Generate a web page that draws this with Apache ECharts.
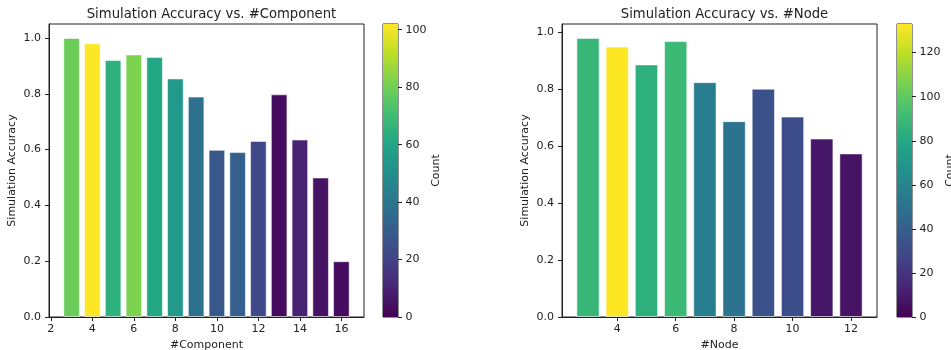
<!DOCTYPE html>
<html>
<head>
<meta charset="utf-8">
<script src="https://cdn.jsdelivr.net/npm/echarts@6/dist/echarts.min.js"></script>
<style>
html,body{margin:0;padding:0;background:#fff;}
#chart{width:951px;height:350px;}
</style>
</head>
<body>
<div id="chart"></div>
<script>
// ---- data ----
const compX = [3, 4, 5, 6, 7, 8, 9, 10, 11, 12, 13, 14, 15, 16];
const compAcc = [1.0, 0.981, 0.921, 0.941, 0.932, 0.855, 0.79, 0.599, 0.591, 0.631, 0.798, 0.636, 0.5, 0.2];
const compCount = [79, 102, 65, 82, 61, 54, 38, 28, 31, 22, 3, 10, 5, 3];

const nodeX = [3, 4, 5, 6, 7, 8, 9, 10, 11, 12];
const nodeAcc = [0.979, 0.949, 0.886, 0.968, 0.824, 0.687, 0.801, 0.703, 0.626, 0.574];
const nodeCount = [88, 133, 84, 90, 56, 50, 33, 31, 8, 7];

const accTicks = [0, 0.2, 0.4, 0.6, 0.8, 1.0];
const compTicks = [2, 4, 6, 8, 10, 12, 14, 16];
const nodeTicks = [4, 6, 8, 10, 12];
const compCountTicks = [0, 20, 40, 60, 80, 100];
const nodeCountTicks = [0, 20, 40, 60, 80, 100, 120];

const viridis = ['#440154','#482475','#414487','#355f8d','#2a788e','#21918c','#22a884','#44bf70','#7ad151','#bddf26','#fde725'];

// ---- helpers ----
const FONT = 'DejaVu Sans';
const TXT = '#222';
const FS = 11;
function xRange(xs, w) {
  const lo = Math.min(...xs) - w / 2, hi = Math.max(...xs) + w / 2;
  const m = (hi - lo) * 0.05;
  return [lo - m, hi + m];
}
function yMax(vals) { return Math.max(...vals) * 1.05; }
const gradient = {
  type: 'linear', x: 0, y: 1, x2: 0, y2: 0,
  colorStops: viridis.map((c, i) => ({ offset: i / (viridis.length - 1), color: c }))
};
function tick(vals) { return { show: true, length: 4, lineStyle: { color: TXT }, customValues: vals }; }
function label(vals, margin, fmt) {
  const o = { color: TXT, fontSize: FS, fontFamily: FONT, margin: margin, customValues: vals };
  if (fmt) o.formatter = fmt;
  return o;
}
const nameStyle = { color: TXT, fontSize: FS, fontFamily: FONT };
const axLine = { show: true, onZero: false, lineStyle: { color: TXT, width: 1 } };

const cr = xRange(compX, 0.8), nr = xRange(nodeX, 0.8);
const compMax = Math.max(...compCount), nodeMax = Math.max(...nodeCount);

const gridBox = { show: true, borderColor: TXT, borderWidth: 1, containLabel: false, outerBoundsMode: 'none' };

const option = {
  animation: false,
  backgroundColor: '#fff',
  textStyle: { fontFamily: FONT },
  title: [
    { text: 'Simulation Accuracy vs. #Component', left: 206.5, top: 3, textAlign: 'center',
      textStyle: { fontSize: 13.2, fontWeight: 'normal', color: TXT, fontFamily: FONT } },
    { text: 'Simulation Accuracy vs. #Node', left: 719.5, top: 3, textAlign: 'center',
      textStyle: { fontSize: 13.2, fontWeight: 'normal', color: TXT, fontFamily: FONT } }
  ],
  grid: [
    Object.assign({ left: 49, top: 24, width: 315, height: 293 }, gridBox),
    Object.assign({ left: 383, top: 24, width: 15, height: 293 }, gridBox),
    Object.assign({ left: 562, top: 24, width: 315, height: 293 }, gridBox),
    Object.assign({ left: 897, top: 24, width: 15, height: 293 }, gridBox)
  ],
  xAxis: [
    { type: 'value', gridIndex: 0, min: cr[0], max: cr[1], name: '#Component',
      nameLocation: 'middle', nameGap: 20, nameTextStyle: nameStyle,
      axisLine: axLine, splitLine: { show: false },
      axisTick: tick(compTicks), axisLabel: label(compTicks, 7) },
    { type: 'category', gridIndex: 1, data: ['c'], show: false, boundaryGap: true },
    { type: 'value', gridIndex: 2, min: nr[0], max: nr[1], name: '#Node',
      nameLocation: 'middle', nameGap: 20, nameTextStyle: nameStyle,
      axisLine: axLine, splitLine: { show: false },
      axisTick: tick(nodeTicks), axisLabel: label(nodeTicks, 7) },
    { type: 'category', gridIndex: 3, data: ['c'], show: false, boundaryGap: true }
  ],
  yAxis: [
    { type: 'value', gridIndex: 0, min: 0, max: yMax(compAcc), name: 'Simulation Accuracy',
      nameLocation: 'middle', nameGap: 31, nameRotate: 90, nameTextStyle: nameStyle,
      axisLine: axLine, splitLine: { show: false },
      axisTick: tick(accTicks), axisLabel: label(accTicks, 8, v => v.toFixed(1)) },
    { type: 'value', gridIndex: 1, position: 'right', min: 0, max: compMax, name: 'Count',
      nameLocation: 'middle', nameGap: 32, nameRotate: 90, nameTextStyle: nameStyle,
      axisLine: { show: false }, splitLine: { show: false },
      axisTick: tick(compCountTicks), axisLabel: label(compCountTicks, 7.5) },
    { type: 'value', gridIndex: 2, min: 0, max: yMax(nodeAcc), name: 'Simulation Accuracy',
      nameLocation: 'middle', nameGap: 31, nameRotate: 90, nameTextStyle: nameStyle,
      axisLine: axLine, splitLine: { show: false },
      axisTick: tick(accTicks), axisLabel: label(accTicks, 8, v => v.toFixed(1)) },
    { type: 'value', gridIndex: 3, position: 'right', min: 0, max: nodeMax, name: 'Count',
      nameLocation: 'middle', nameGap: 29, nameRotate: 90, nameTextStyle: nameStyle,
      axisLine: { show: false }, splitLine: { show: false },
      axisTick: tick(nodeCountTicks), axisLabel: label(nodeCountTicks, 7.5) }
  ],
  visualMap: [
    { type: 'continuous', show: false, seriesIndex: 0, dimension: 2, min: 0, max: compMax,
      inRange: { color: viridis } },
    { type: 'continuous', show: false, seriesIndex: 2, dimension: 2, min: 0, max: nodeMax,
      inRange: { color: viridis } }
  ],
  series: [
    { type: 'bar', xAxisIndex: 0, yAxisIndex: 0, barWidth: 16.6,
      encode: { x: 0, y: 1 },
      itemStyle: { borderColor: 'rgba(255,255,255,0.55)', borderWidth: 1 },
      data: compX.map((x, i) => [x, compAcc[i], compCount[i]]) },
    { type: 'bar', xAxisIndex: 1, yAxisIndex: 1, barWidth: '100%', silent: true,
      itemStyle: { color: gradient }, data: [compMax] },
    { type: 'bar', xAxisIndex: 2, yAxisIndex: 2, barWidth: 23.3,
      encode: { x: 0, y: 1 },
      itemStyle: { borderColor: 'rgba(255,255,255,0.55)', borderWidth: 1 },
      data: nodeX.map((x, i) => [x, nodeAcc[i], nodeCount[i]]) },
    { type: 'bar', xAxisIndex: 3, yAxisIndex: 3, barWidth: '100%', silent: true,
      itemStyle: { color: gradient }, data: [nodeMax] }
  ]
};

const chart = echarts.init(document.getElementById('chart'), null, { renderer: 'canvas' });
chart.setOption(option);
</script>
</body>
</html>
